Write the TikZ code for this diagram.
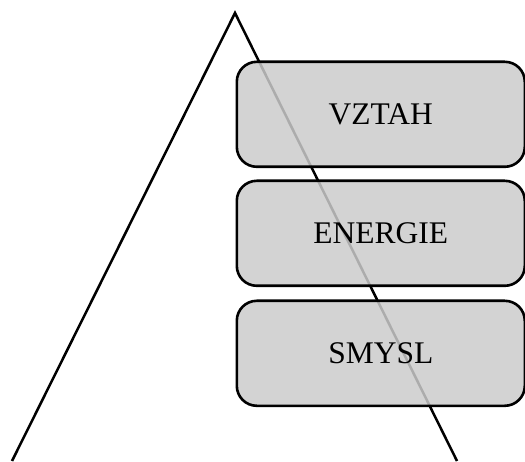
\documentclass[tikz,border=0pt]{standalone}
\usepackage{fontspec}
\setmainfont{Liberation Serif}
\definecolor{boxfill}{RGB}{203,203,203}
\begin{document}
\begin{tikzpicture}[x=1pt,y=1pt,
  level/.style={draw=black, line width=2.6pt, rounded corners=20pt, fill=boxfill, fill opacity=0.85, text opacity=1,
    minimum width=288pt, minimum height=105pt, inner sep=0pt, font=\fontsize{31.5}{36}\selectfont, anchor=north west},
  edge/.style={draw=black, line width=2.5pt}]
\useasboundingbox (0,0) rectangle (525,461);
\coordinate (apex) at (235,448);
\coordinate (bl) at (12,0);
\coordinate (br) at (457,0);
\draw[edge] (bl) -- (apex) -- (br);
\node[level] (vztah) at (235.5,400.5) {VZTAH};
\node[level] (energie) at (235.5,281.5) {ENERGIE};
\node[level] (smysl) at (235.5,161.5) {SMYSL};
\end{tikzpicture}
\end{document}
